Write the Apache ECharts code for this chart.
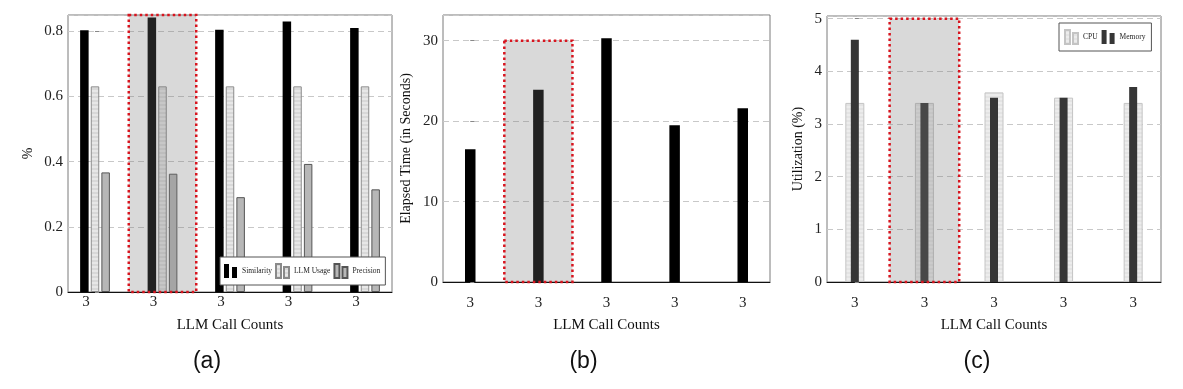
<!DOCTYPE html>
<html>
<head>
<meta charset="utf-8">
<script src="https://cdn.jsdelivr.net/npm/echarts@6/dist/echarts.min.js"></script>
<style>
html,body{margin:0;padding:0;background:#fff;}
#chart{width:1183px;height:389px;}
</style>
</head>
<body>
<div id="chart"></div>
<script>
// ---- data ----
const categories = ['3', '3', '3', '3', '3'];
const similarity = [0.803, 0.842, 0.805, 0.830, 0.810];
const llmUsage = [0.631, 0.631, 0.631, 0.631, 0.631];
const precision = [0.367, 0.363, 0.291, 0.393, 0.315];
const elapsed = [16.5, 23.9, 30.3, 19.5, 21.6];
const cpu = [3.4, 3.4, 3.6, 3.5, 3.4];
const memory = [4.6, 3.4, 3.5, 3.5, 3.7];
// highlighted box: [xStart, xEnd, yTop]
const highlightA = [0.5, 1.5, 0.85];
const highlightB = [0.5, 1.5, 30];
const highlightC = [0.5, 1.5, 5];
const panelLabels = ['(a)', '(b)', '(c)'];

// ---- styling helpers ----
const SERIF = "'Liberation Serif', 'DejaVu Serif', serif";
const SANS = "'Liberation Sans', Arial, sans-serif";

function stripe(c1, c2) {
  const cv = document.createElement('canvas');
  cv.width = 2; cv.height = 4;
  const ctx = cv.getContext('2d');
  ctx.fillStyle = c1; ctx.fillRect(0, 0, 2, 2);
  ctx.fillStyle = c2; ctx.fillRect(0, 2, 2, 2);
  return { image: cv, repeat: 'repeat' };
}

function shadeRender(params, api) {
  const p1 = api.coord([api.value(0), api.value(2)]);
  const p2 = api.coord([api.value(1), 0]);
  const x = p1[0], y = p1[1], w = p2[0] - p1[0], h = p2[1] - p1[1];
  return {
    type: 'group',
    children: [
      { type: 'rect', shape: { x: x, y: y, width: w, height: h }, style: { fill: 'rgba(120,120,120,0.28)' } },
      { type: 'rect', shape: { x: x, y: y, width: w, height: h },
        style: { fill: 'none', stroke: '#d8141e', lineWidth: 2.5, lineDash: [2.5, 3] } }
    ]
  };
}

// panel geometry (frame); bar grid is wider by 0.1 * spacing on each side
const panels = [
  { left: 68, top: 15, width: 324, height: 277 },
  { left: 443, top: 15, width: 327, height: 267 },
  { left: 827, top: 16, width: 334, height: 266 }
];
const yMax = [0.85, 33.2, 5.05];
const yInterval = [0.2, 10, 1];

const grids = [];
panels.forEach(function (p) {
  grids.push({ left: p.left, top: p.top, width: p.width, height: p.height, show: true,
    borderColor: '#7a7a7a', borderWidth: 1, backgroundColor: 'transparent' });
  const s = p.width / 4.8;
  grids.push({ left: p.left - 0.1 * s, top: p.top, width: p.width + 0.2 * s, height: p.height });
});

function frameX(gi) {
  return { type: 'value', gridIndex: gi, min: -0.4, max: 4.4,
    axisLine: { show: true, lineStyle: { color: '#111', width: 1 } },
    axisTick: { show: false }, axisLabel: { show: false }, splitLine: { show: false } };
}
function catX(gi, show, margin, nameGap, pad) {
  return { type: 'category', gridIndex: gi, data: categories, show: show,
    axisLine: { show: false }, axisTick: { show: false },
    axisLabel: { show: show, fontFamily: SERIF, fontSize: 15, color: '#222', margin: margin,
      padding: pad || 0 },
    name: show ? 'LLM Call Counts' : '', nameLocation: 'middle', nameGap: nameGap,
    nameTextStyle: { fontFamily: SERIF, fontSize: 15, color: '#111' } };
}
function hiddenValX(gi) {
  return { type: 'value', gridIndex: gi, min: -0.5, max: 4.5, show: false };
}
function frameY(gi, i, name, gap) {
  return { type: 'value', gridIndex: gi, min: 0, max: yMax[i], interval: yInterval[i],
    axisLine: { show: false },
    axisTick: { show: true, inside: true, length: 4, lineStyle: { color: '#888' } },
    axisLabel: { fontFamily: SERIF, fontSize: 15, color: '#222', margin: 5, showMaxLabel: false },
    splitLine: { show: true, lineStyle: { color: '#c8c8c8', type: [6, 4], width: 1 } },
    name: name, nameLocation: 'middle', nameGap: gap,
    nameTextStyle: { fontFamily: SERIF, fontSize: 14, color: '#111' } };
}
function hiddenY(gi, i) {
  return { type: 'value', gridIndex: gi, min: 0, max: yMax[i], show: false };
}

const xAxes = [
  frameX(0), catX(1, true, 3, 25.5, [0, 18, 0, 0]), hiddenValX(1),
  frameX(2), catX(3, true, 13.5, 35.5), hiddenValX(3),
  frameX(4), catX(5, true, 13.5, 35.5), catX(5, false, 0, 0), hiddenValX(5)
];
const yAxes = [
  frameY(0, 0, '%', 33), hiddenY(1, 0),
  frameY(2, 1, 'Elapsed Time (in Seconds)', 30), hiddenY(3, 1),
  frameY(4, 2, 'Utilization (%)', 22), hiddenY(5, 2)
];

const legendIcon = 'path://M0,0L5,0L5,14L0,14Z M8,3L13,3L13,14L8,14Z';
const legendText = { fontFamily: SERIF, fontSize: 7.5, color: '#222' };

const option = {
  animation: false,
  backgroundColor: '#fff',
  grid: grids,
  xAxis: xAxes,
  yAxis: yAxes,
  legend: [
    { data: ['Similarity', 'LLM Usage', 'Precision'], left: 220, top: 257, orient: 'horizontal',
      icon: legendIcon, itemWidth: 13, itemHeight: 14, itemGap: 3, padding: [6, 5, 6, 4],
      backgroundColor: '#fff', borderColor: '#555', borderWidth: 1, textStyle: legendText },
    { data: ['CPU', 'Memory'], left: 1059, top: 23, orient: 'horizontal',
      icon: legendIcon, itemWidth: 13, itemHeight: 14, itemGap: 4, padding: [6, 6, 6, 5],
      backgroundColor: '#fff', borderColor: '#555', borderWidth: 1, textStyle: legendText }
  ],
  graphic: panelLabels.map(function (t, i) {
    return { type: 'text', x: [207, 583.5, 977][i], y: 362,
      style: { text: t, fontFamily: SANS, fontSize: 23, fill: '#111', align: 'center', verticalAlign: 'middle' } };
  }),
  series: [
    { name: 'Similarity', type: 'bar', xAxisIndex: 1, yAxisIndex: 1, data: similarity,
      barWidth: 8.5, barGap: '25%', itemStyle: { color: '#000' } },
    { name: 'LLM Usage', type: 'bar', xAxisIndex: 1, yAxisIndex: 1, data: llmUsage,
      barWidth: 8.5, barGap: '25%', itemStyle: { color: stripe('#d8d8d8', '#e7e7e7'), borderColor: '#8a8a8a', borderWidth: 1 } },
    { name: 'Precision', type: 'bar', xAxisIndex: 1, yAxisIndex: 1, data: precision,
      barWidth: 8.5, barGap: '25%', itemStyle: { color: '#b7b7b7', borderColor: '#555', borderWidth: 1 } },
    { type: 'custom', xAxisIndex: 2, yAxisIndex: 1, z: 10, renderItem: shadeRender,
      encode: { x: [0, 1], y: 2 }, data: [highlightA] },

    { name: 'Elapsed', type: 'bar', xAxisIndex: 4, yAxisIndex: 3, data: elapsed,
      barWidth: 10.5, itemStyle: { color: '#000' } },
    { type: 'custom', xAxisIndex: 5, yAxisIndex: 3, z: 10, renderItem: shadeRender,
      encode: { x: [0, 1], y: 2 }, data: [highlightB] },

    { name: 'CPU', type: 'bar', xAxisIndex: 7, yAxisIndex: 5, data: cpu,
      barWidth: 19, itemStyle: { color: stripe('#e3e3e3', '#ececec'), borderColor: '#c4c4c4', borderWidth: 1 } },
    { name: 'Memory', type: 'bar', xAxisIndex: 8, yAxisIndex: 5, data: memory,
      barWidth: 8, itemStyle: { color: '#363636' } },
    { type: 'custom', xAxisIndex: 9, yAxisIndex: 5, z: 10, renderItem: shadeRender,
      encode: { x: [0, 1], y: 2 }, data: [highlightC] }
  ]
};

const chart = echarts.init(document.getElementById('chart'), null, { renderer: 'canvas' });
chart.setOption(option);
</script>
</body>
</html>
